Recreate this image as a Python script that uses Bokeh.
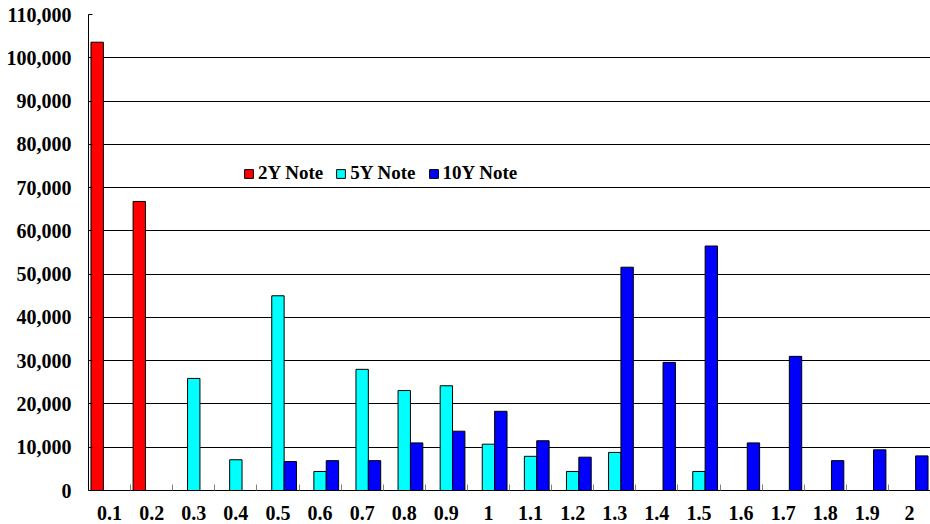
from bokeh.plotting import figure
from bokeh.models import (ColumnDataSource, Range1d, FixedTicker, NumeralTickFormatter,
                          Legend, LegendItem)
from bokeh.transform import dodge
from bokeh.embed import file_html
from bokeh.resources import INLINE

# Moneyness buckets and open interest per note contract
categories = ["0.1", "0.2", "0.3", "0.4", "0.5", "0.6", "0.7", "0.8", "0.9", "1",
              "1.1", "1.2", "1.3", "1.4", "1.5", "1.6", "1.7", "1.8", "1.9", "2"]
note_2y = [103600, 66800, 0, 0, 0, 0, 0, 0, 0, 0,
           0, 0, 0, 0, 0, 0, 0, 0, 0, 0]
note_5y = [0, 0, 25900, 7100, 45000, 4400, 28000, 23100, 24200, 10700,
           7900, 4400, 8800, 0, 4400, 0, 0, 0, 0, 0]
note_10y = [0, 0, 0, 0, 6700, 6900, 6900, 11000, 13700, 18300,
            11500, 7700, 51600, 29600, 56500, 11000, 31000, 6900, 9400, 8000]
y_ticks = list(range(0, 110001, 10000))

n = len(categories)
centers = [i + 0.5 for i in range(n)]
source = ColumnDataSource(dict(x=centers, y2=note_2y, y5=note_5y, y10=note_10y))

FONT = "Liberation Serif"
BAR_W = 0.294

p = figure(frame_width=842, frame_height=476, output_backend="svg", toolbar_location=None,
           x_range=Range1d(0, n), y_range=Range1d(0, 110000),
           min_border_left=88, min_border_right=0, min_border_top=14,
           min_border_bottom=34)
p.outline_line_color = None
p.background_fill_color = "white"
p.border_fill_color = "white"

r2 = p.vbar(x=dodge("x", -BAR_W, range=p.x_range), top="y2", width=BAR_W, source=source,
            fill_color="#FF0000", line_color="black", line_width=1)
r5 = p.vbar(x=dodge("x", 0, range=p.x_range), top="y5", width=BAR_W, source=source,
            fill_color="#00FFFF", line_color="black", line_width=1)
r10 = p.vbar(x=dodge("x", BAR_W, range=p.x_range), top="y10", width=BAR_W, source=source,
             fill_color="#0000FF", line_color="black", line_width=1)

# y axis
p.yaxis.ticker = FixedTicker(ticks=y_ticks)
p.yaxis.formatter = NumeralTickFormatter(format="0,0")
p.yaxis.major_label_text_font = FONT
p.yaxis.major_label_text_font_style = "bold"
p.yaxis.major_label_text_font_size = "20px"
p.yaxis.major_label_text_color = "black"
p.yaxis.major_tick_in = 4
p.yaxis.major_tick_out = 0
p.yaxis.minor_tick_line_color = None
p.yaxis.axis_line_color = "black"
p.yaxis.major_label_standoff = 17

# x axis: labels at bucket centres, small tick marks at bucket boundaries
p.xaxis.ticker = FixedTicker(ticks=centers, minor_ticks=list(range(1, n)))
p.xaxis.major_label_overrides = {c: lab for c, lab in zip(centers, categories)}
p.xaxis.major_tick_line_color = None
p.xaxis.minor_tick_in = 6
p.xaxis.minor_tick_out = 0
p.xaxis.minor_tick_line_color = "#808080"
p.xaxis.axis_line_color = "black"
p.xaxis.major_label_text_font = FONT
p.xaxis.major_label_text_font_style = "bold"
p.xaxis.major_label_text_font_size = "20px"
p.xaxis.major_label_text_color = "black"
p.xaxis.major_label_standoff = 9

p.xgrid.grid_line_color = None
p.ygrid.grid_line_color = "black"
p.ygrid.grid_line_width = 1

legend = Legend(items=[LegendItem(label="2Y Note", renderers=[r2]),
                       LegendItem(label="5Y Note", renderers=[r5]),
                       LegendItem(label="10Y Note", renderers=[r10])],
                orientation="horizontal", location=(155, 306),
                padding=0, margin=0, spacing=12,
                glyph_width=11, glyph_height=11, label_standoff=4,
                label_text_font=FONT, label_text_font_style="bold",
                label_text_font_size="19px", label_text_color="black",
                border_line_color=None, background_fill_alpha=0)
p.add_layout(legend, "center")

open("out.html", "w").write(file_html(p, INLINE))
